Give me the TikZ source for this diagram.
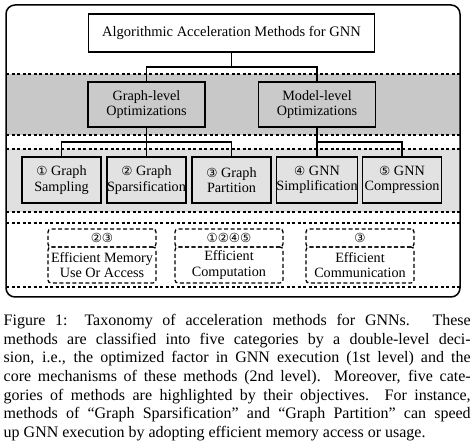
\documentclass[tikz,border=0pt]{standalone}
\usepackage{fontspec}
\setmainfont{Liberation Serif}
\newfontfamily\cfont{DejaVu Sans}
\newcommand{\cn}[1]{{\cfont\fontsize{12.5}{12.5}\selectfont #1}}
\definecolor{bandA}{HTML}{C8C8C8}
\definecolor{bandB}{HTML}{E0E0E0}
\definecolor{boxA}{HTML}{CACACA}
\definecolor{boxB}{HTML}{E2E2E2}
\begin{document}
\begin{tikzpicture}[x=1pt,y=-1pt,
  box/.style={draw, line width=1.6pt, inner sep=0pt, align=center, font=\fontsize{14.2}{15.5}\selectfont},
  topbox/.style={box, fill=white, minimum width=286pt, minimum height=38pt, font=\fontsize{14.5}{16}\selectfont},
  lonebox/.style={box, fill=boxA, minimum width=117pt, minimum height=45pt},
  ltwobox/.style={box, fill=boxB, minimum width=79pt, minimum height=46pt},
  conn/.style={line width=1.1pt},
  sepline/.style={line width=1.1pt, dash pattern=on 3pt off 2.5pt},
  dbox/.style={draw, line width=1.3pt, dash pattern=on 4pt off 2.5pt, rounded corners=3pt,
    inner sep=0pt, align=center, minimum width=108pt, font=\fontsize{14.2}{15.5}\selectfont},
  dhead/.style={dbox, minimum height=18pt},
  dbody/.style={dbox, minimum height=36pt}
]
\useasboundingbox (0,0) rectangle (474,446);
% bands
\fill[bandA] (6,74) rectangle (460,135);
\fill[bandB] (6,149) rectangle (460,212);
\foreach \yy in {74,135,149,212,223,287}
  \draw[sepline] (6,\yy) -- (460,\yy);
% frame
\draw[line width=1.5pt, rounded corners=9pt] (6,5) rectangle (460,297);

% nodes
\node[topbox] (top) at (231.5,33) {Algorithmic Acceleration Methods for GNN};
\node[lonebox] (g1) at (146.5,104.5) {Graph-level\\Optimizations};
\node[lonebox] (m1) at (317,104.5) {Model-level\\Optimizations};

\node[ltwobox] (s1) at (61.5,180) {\cn{①} Graph\\Sampling};
\node[ltwobox] (s2) at (146.5,180) {\cn{②} Graph\\Sparsification};
\node[ltwobox] (s3) at (231.5,180) {\cn{③} Graph\\Partition};
\node[ltwobox] (s4) at (317,180) {\cn{④} GNN\\Simplification};
\node[ltwobox] (s5) at (402,180) {\cn{⑤} GNN\\Compression};

% connectors
\coordinate (j1) at (231.5,67);
\coordinate (j2) at (146.5,142);
\coordinate (j3) at (317,142);
\draw[conn] (top.south) -- (j1);
\draw[conn] (j1) -| (g1.north);
\draw[conn] (j1) -| (m1.north);
\draw[conn] (g1.south) -- (j2);
\draw[conn] (j2) -| (s1.north);
\draw[conn] (j2) -- (s2.north);
\draw[conn] (j2) -| (s3.north);
\draw[conn] (m1.south) -- (j3);
\draw[conn] (j3) -- (s4.north);
\draw[conn] (j3) -| (s5.north);

% objectives
\node[dhead] (h1) at (102,238) {\cn{②③}};
\node[dbody] (b1) at (102,265) {Efficient Memory\\Use Or Access};
\node[dhead] (h2) at (229,238) {\cn{①②④⑤}};
\node[dbody] (b2) at (229,265) {Efficient\\Computation};
\node[dhead] (h3) at (360,238) {\cn{③}};
\node[dbody] (b3) at (360,265) {Efficient\\Communication};

% caption
\node[anchor=north west, inner sep=0pt, text width=467pt, align=justify,
  font=\fontsize{16}{18.7}\selectfont] (cap) at (3.5,314)
{Figure 1: Taxonomy of acceleration methods for GNNs. These\linebreak
methods are classified into five categories by a double-level deci-\linebreak
sion, i.e., the optimized factor in GNN execution (1st level) and the\linebreak
core mechanisms of these methods (2nd level). Moreover, five cate-\linebreak
gories of methods are highlighted by their objectives. For instance,\linebreak
methods of ``Graph Sparsification'' and ``Graph Partition'' can speed\linebreak
up GNN execution by adopting efficient memory access or usage.};
\end{tikzpicture}
\end{document}
